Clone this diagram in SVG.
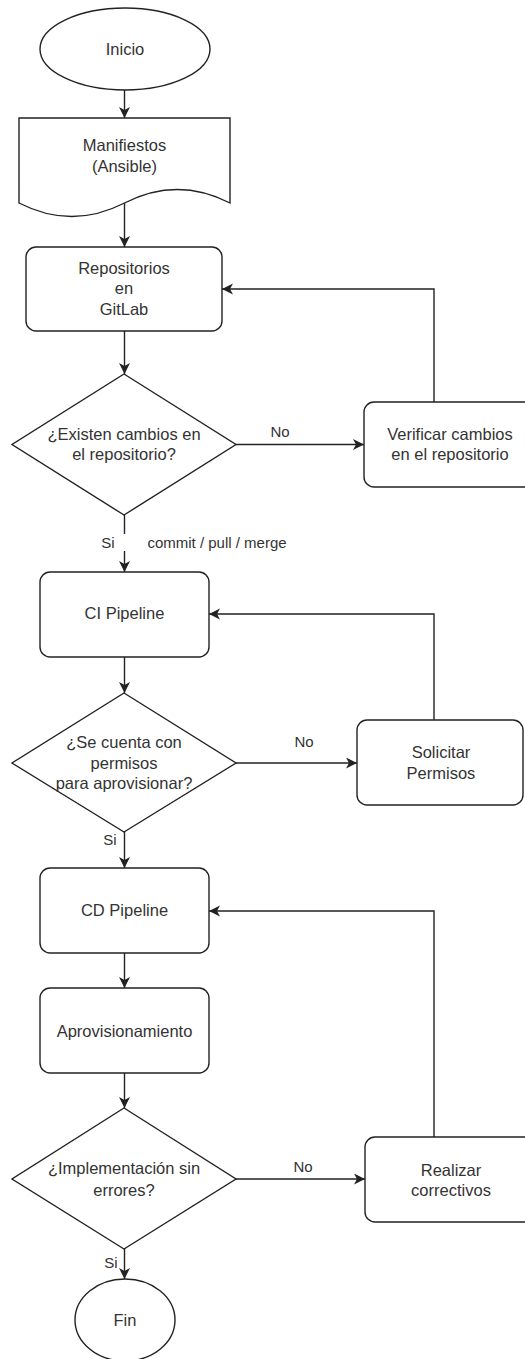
<svg xmlns="http://www.w3.org/2000/svg" width="525" height="1359" viewBox="0 0 525 1359">
<defs>
<style>
.n{fill:#fff;stroke:#222;stroke-width:1.4}
.e{fill:none;stroke:#222;stroke-width:1.4}
.t{font-family:"Liberation Sans",Arial,sans-serif;font-size:16.5px;fill:#333;text-anchor:middle}
.l{font-family:"Liberation Sans",Arial,sans-serif;font-size:15px;fill:#333;text-anchor:middle}
</style>
<marker id="a" markerUnits="userSpaceOnUse" markerWidth="12" markerHeight="12" refX="11" refY="5.5" orient="auto">
<path d="M0,0 L11,5.5 L0,11 L3,5.5 Z" fill="#222"/>
</marker>
</defs>
<rect width="525" height="1359" fill="#fff"/>
<g id="connectors">
<path class="e" d="M124.5,90 V118" marker-end="url(#a)"/>
<path class="e" d="M124.5,203 V247" marker-end="url(#a)"/>
<path class="e" d="M124.5,331 V374" marker-end="url(#a)"/>
<path class="e" d="M236,444.5 H364" marker-end="url(#a)"/>
<text class="l" x="280" y="437">No</text>
<path class="e" d="M434,402 V289 H222" marker-end="url(#a)"/>
<path class="e" d="M124.5,515 V534"/>
<path class="e" d="M124.5,551 V572" marker-end="url(#a)"/>
<text class="l" x="108" y="548">Si</text>
<text class="l" x="217" y="548">commit / pull / merge</text>
<path class="e" d="M124.5,657 V693" marker-end="url(#a)"/>
<path class="e" d="M236,763 H357" marker-end="url(#a)"/>
<text class="l" x="304" y="747">No</text>
<path class="e" d="M434,720 V614 H209" marker-end="url(#a)"/>
<path class="e" d="M124.5,832 V868" marker-end="url(#a)"/>
<text class="l" x="110" y="845">Si</text>
<path class="e" d="M124.5,953 V988" marker-end="url(#a)"/>
<path class="e" d="M124.5,1073 V1108" marker-end="url(#a)"/>
<path class="e" d="M236,1179 H365" marker-end="url(#a)"/>
<text class="l" x="303" y="1172">No</text>
<path class="e" d="M434,1137 V911 H209" marker-end="url(#a)"/>
<path class="e" d="M124.5,1249 V1279" marker-end="url(#a)"/>
<text class="l" x="111" y="1268">Si</text>
</g>
<g id="inicio">
<ellipse class="n" cx="125" cy="49" rx="85" ry="41"/>
<text class="t" x="125" y="55">Inicio</text>
</g>
<g id="manifiestos">
<path class="n" d="M19,118 H230 V203 Q177.25,176 124.5,203 Q71.75,230 19,203 Z"/>
<text class="t" x="124.5" y="151">Manifiestos</text>
<text class="t" x="124.5" y="172">(Ansible)</text>
</g>
<g id="repositorios">
<rect class="n" x="26" y="247" width="196" height="84" rx="10"/>
<text class="t" x="124" y="274">Repositorios</text>
<text class="t" x="124" y="294">en</text>
<text class="t" x="124" y="315">GitLab</text>
</g>
<g id="decision-cambios">
<polygon class="n" points="124,374 236,444.5 124,515 12,444.5"/>
<text class="t" x="124" y="440">¿Existen cambios en</text>
<text class="t" x="124" y="460">el repositorio?</text>
</g>
<g id="verificar">
<rect class="n" x="364" y="402" width="172" height="85" rx="10"/>
<text class="t" x="450" y="440">Verificar cambios</text>
<text class="t" x="450" y="460">en el repositorio</text>
</g>
<g id="ci">
<rect class="n" x="40" y="572" width="169" height="85" rx="10"/>
<text class="t" x="124.5" y="619">CI Pipeline</text>
</g>
<g id="decision-permisos">
<polygon class="n" points="124,693 236,763 124,832 12,763"/>
<text class="t" x="124" y="748">¿Se cuenta con</text>
<text class="t" x="124" y="769">permisos</text>
<text class="t" x="124" y="789">para aprovisionar?</text>
</g>
<g id="solicitar">
<rect class="n" x="357" y="720" width="166" height="85" rx="10"/>
<text class="t" x="441" y="758">Solicitar</text>
<text class="t" x="441" y="779">Permisos</text>
</g>
<g id="cd">
<rect class="n" x="40" y="868" width="169" height="85" rx="10"/>
<text class="t" x="124.5" y="916">CD Pipeline</text>
</g>
<g id="aprovisionamiento">
<rect class="n" x="40" y="988" width="169" height="85" rx="10"/>
<text class="t" x="124.5" y="1037">Aprovisionamiento</text>
</g>
<g id="decision-errores">
<polygon class="n" points="124,1108 236,1179 124,1249 12,1179"/>
<text class="t" x="124" y="1174">¿Implementación sin</text>
<text class="t" x="124" y="1196">errores?</text>
</g>
<g id="realizar">
<rect class="n" x="365" y="1137" width="172" height="85" rx="10"/>
<text class="t" x="451" y="1176">Realizar</text>
<text class="t" x="451" y="1196">correctivos</text>
</g>
<g id="fin">
<ellipse class="n" cx="125" cy="1320" rx="50" ry="41"/>
<text class="t" x="125" y="1326">Fin</text>
</g>
</svg>
